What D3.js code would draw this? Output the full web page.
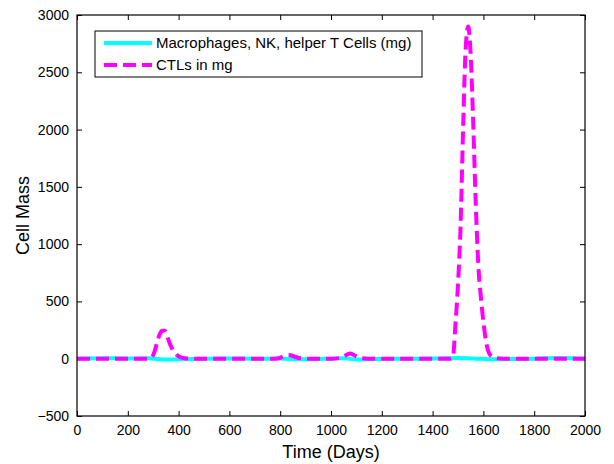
<!DOCTYPE html>
<html>
<head>
<meta charset="utf-8">
<script src="https://cdn.jsdelivr.net/npm/d3@7"></script>
<style>
  body { margin: 0; background: #fff; }
  text { font-family: "Liberation Sans", Arial, sans-serif; }
</style>
</head>
<body>
<div id="chart"></div>
<script>
// CTL mass (mg)
const ctlDays = [0, 100, 200, 280, 295, 305, 315, 325, 335, 345, 355, 365, 375, 390, 405, 425, 450, 500, 600, 700, 780, 800, 815, 830, 845, 860, 880, 900, 1000, 1030, 1050, 1065, 1075, 1090, 1105, 1125, 1150, 1200, 1300, 1400, 1470, 1480, 1490, 1500, 1510, 1520, 1530, 1540, 1550, 1560, 1570, 1580, 1590, 1600, 1615, 1630, 1650, 1680, 1800, 1900, 2000];
const ctlMass = [0, 0, 0, 0, 15, 60, 140, 210, 245, 245, 195, 135, 85, 40, 15, 4, 0, 0, 0, 0, 0, 8, 22, 32, 28, 15, 4, 0, 0, 5, 20, 38, 45, 32, 15, 4, 0, 0, 0, 0, 0, 15, 300, 650, 1150, 2000, 2700, 2900, 2650, 2050, 1350, 820, 540, 320, 100, 25, 5, 0, 0, 0, 0];

// macrophages, NK, helper T cells (mg)
const macDays = [0, 100, 200, 280, 350, 420, 500, 600, 700, 800, 860, 920, 1000, 1050, 1100, 1180, 1300, 1400, 1500, 1560, 1620, 1700, 1800, 1900, 2000];
const macMass = [0, 4, 2, 3, -7, -4, 0, 2, 0, 1, -5, -4, 0, 3, -6, -2, 0, 1, 6, 2, -5, -3, 0, 7, 2];

const xTicks = [0, 200, 400, 600, 800, 1000, 1200, 1400, 1600, 1800, 2000];
const yTicks = [-500, 0, 500, 1000, 1500, 2000, 2500, 3000];
const seriesNames = ["Macrophages, NK, helper T Cells (mg)", "CTLs in mg"];

const W = 614, H = 464;
const margin = { top: 15, right: 29, bottom: 48, left: 77 };
const width = W - margin.left - margin.right;
const height = H - margin.top - margin.bottom;

const svg = d3.select("#chart").append("svg")
    .attr("width", W)
    .attr("height", H);

const g = svg.append("g")
    .attr("transform", `translate(${margin.left},${margin.top})`);

const x = d3.scaleLinear().domain([0, 2000]).range([0, width]);
const y = d3.scaleLinear().domain([-500, 3000]).range([height, 0]);

// axes, ticks pointing inward like matlab
const tickLen = 5;
const fmt = d3.format("d");
g.append("g")
    .attr("transform", `translate(0,${height})`)
    .call(d3.axisBottom(x).tickValues(xTicks).tickFormat(fmt).tickSizeInner(-tickLen).tickSizeOuter(0).tickPadding(9))
    .call(a => a.select(".domain").remove());
g.append("g")
    .call(d3.axisTop(x).tickValues(xTicks).tickSizeInner(-tickLen).tickSizeOuter(0).tickFormat(""))
    .call(a => a.select(".domain").remove());
g.append("g")
    .call(d3.axisLeft(y).tickValues(yTicks).tickFormat(fmt).tickSizeInner(-tickLen).tickSizeOuter(0).tickPadding(8))
    .call(a => a.select(".domain").remove());
g.append("g")
    .attr("transform", `translate(${width},0)`)
    .call(d3.axisRight(y).tickValues(yTicks).tickSizeInner(-tickLen).tickSizeOuter(0).tickFormat(""))
    .call(a => a.select(".domain").remove());

g.selectAll(".tick text")
    .attr("font-size", 14)
    .attr("fill", "#000")
    .style("font-family", "Liberation Sans, Arial, sans-serif");
g.selectAll(".tick line").attr("stroke", "#000");

g.append("clipPath").attr("id", "clip")
    .append("rect").attr("width", width).attr("height", height);

const line = d3.line()
    .x(d => x(d[0]))
    .y(d => y(d[1]))
    .curve(d3.curveMonotoneX);

const plot = g.append("g").attr("clip-path", "url(#clip)");

plot.append("path")
    .datum(d3.zip(macDays, macMass))
    .attr("d", line)
    .attr("fill", "none")
    .attr("stroke", "#00ffff")
    .attr("stroke-width", 4);

plot.append("path")
    .datum(d3.zip(ctlDays, ctlMass))
    .attr("d", line)
    .attr("fill", "none")
    .attr("stroke", "#ff00ff")
    .attr("stroke-width", 4)
    .attr("stroke-dasharray", "13,6");

// box
g.append("rect")
    .attr("width", width)
    .attr("height", height)
    .attr("fill", "none")
    .attr("stroke", "#000")
    .attr("stroke-width", 1.2);

// legend
const legend = g.append("g").attr("transform", "translate(18,16)");
legend.append("rect")
    .attr("width", 327)
    .attr("height", 46)
    .attr("fill", "#fff")
    .attr("stroke", "#000")
    .attr("stroke-width", 1);

const legColors = ["#00ffff", "#ff00ff"];
const legDash = [null, "13,6"];
seriesNames.forEach((name, i) => {
    const ly = 12 + i * 22;
    legend.append("line")
        .attr("x1", 9).attr("x2", 57)
        .attr("y1", ly).attr("y2", ly)
        .attr("stroke", legColors[i])
        .attr("stroke-width", 4)
        .attr("stroke-dasharray", legDash[i]);
    legend.append("text")
        .attr("x", 61)
        .attr("y", ly)
        .attr("dy", "0.35em")
        .attr("font-size", 15)
        .text(name);
});

// axis labels
svg.append("text")
    .attr("x", margin.left + width / 2)
    .attr("y", 458)
    .attr("text-anchor", "middle")
    .attr("font-size", 18)
    .text("Time (Days)");

svg.append("text")
    .attr("transform", `translate(29,${margin.top + height / 2}) rotate(-90)`)
    .attr("text-anchor", "middle")
    .attr("font-size", 18)
    .text("Cell Mass");
</script>
</body>
</html>
